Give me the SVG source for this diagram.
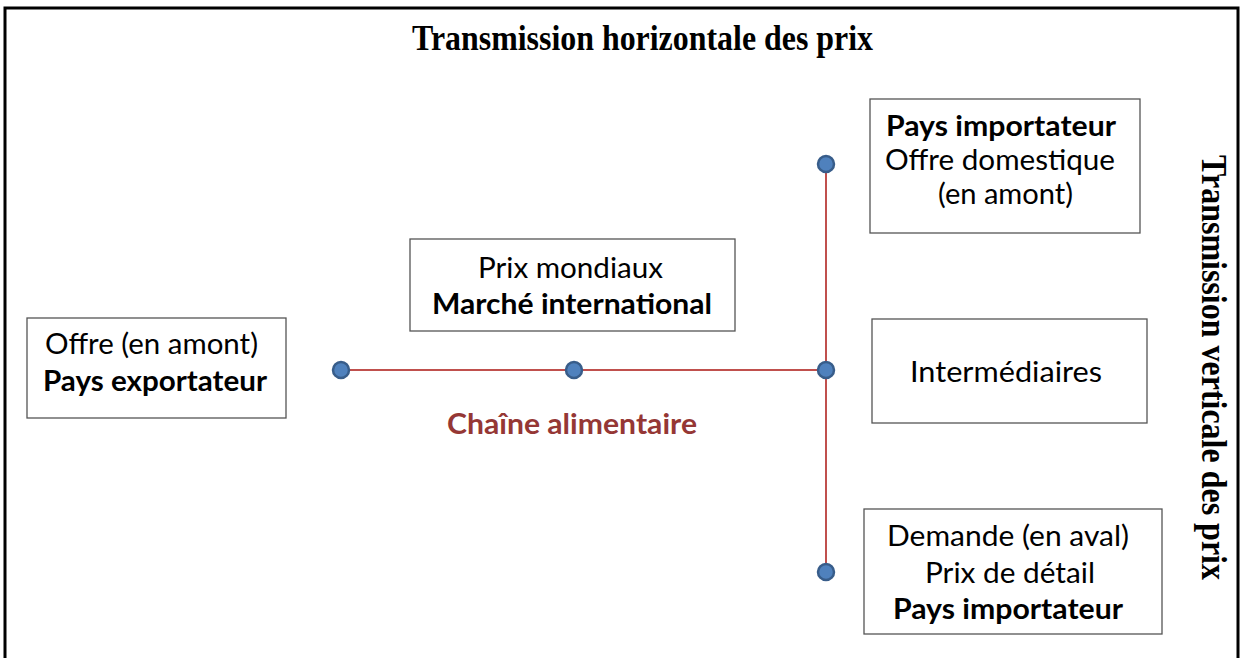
<svg xmlns="http://www.w3.org/2000/svg" width="1244" height="658" viewBox="0 0 1244 658">
<style>
.frame{fill:none;stroke:#000;stroke-width:3}
.box{fill:#fff;stroke:#555;stroke-width:1.3}
.t{font-family:Lato,"Open Sans","Liberation Sans",sans-serif;font-size:28px;fill:#000;text-anchor:middle}
.b{font-weight:bold}
.title{font-family:"Liberation Serif","Times New Roman",serif;font-weight:bold;font-size:36px;fill:#000;text-anchor:middle}
.link{stroke:#c0504d;stroke-width:2;fill:none}
.dot{fill:#4f81bd;stroke:#385d8a;stroke-width:2.5}
.chain{font-family:Lato,"Open Sans","Liberation Sans",sans-serif;font-size:28px;font-weight:bold;fill:#953735;text-anchor:middle}
</style>
<rect width="1244" height="658" fill="#fff"/>
<path class="frame" d="M5,662 V8 H1238 V662"/>
<text class="title" x="642.5" y="50" textLength="461" lengthAdjust="spacingAndGlyphs">Transmission horizontale des prix</text>
<text class="title" transform="translate(1202,367.5) rotate(90)" x="0" y="0" textLength="425" lengthAdjust="spacingAndGlyphs">Transmission verticale des prix</text>

<g id="connectors">
<line class="link" x1="341" y1="370" x2="826" y2="370"/>
<line class="link" x1="826" y1="164" x2="826" y2="572"/>
</g>

<g id="dot1"><circle class="dot" cx="341" cy="370" r="8"/></g>
<g id="dot2"><circle class="dot" cx="574" cy="370" r="8"/></g>
<g id="dot3"><circle class="dot" cx="826" cy="370" r="8"/></g>
<g id="dot4"><circle class="dot" cx="826" cy="164" r="8"/></g>
<g id="dot5"><circle class="dot" cx="826" cy="572" r="8"/></g>

<g id="exportateur">
<rect class="box" x="27" y="318" width="259" height="100"/>
<text class="t" x="151.5" y="354" textLength="213" lengthAdjust="spacingAndGlyphs">Offre (en amont)</text>
<text class="t b" x="155" y="391" textLength="224" lengthAdjust="spacingAndGlyphs">Pays exportateur</text>
</g>

<g id="marche">
<rect class="box" x="410" y="239" width="325" height="92"/>
<text class="t" x="570.5" y="278" textLength="185" lengthAdjust="spacingAndGlyphs">Prix mondiaux</text>
<text class="t b" x="572" y="314" textLength="280" lengthAdjust="spacingAndGlyphs">Marché international</text>
</g>

<g id="importateur-offre">
<rect class="box" x="870" y="99" width="270" height="134"/>
<text class="t b" x="1001" y="136" textLength="230" lengthAdjust="spacingAndGlyphs">Pays importateur</text>
<text class="t" x="1000" y="170" textLength="230" lengthAdjust="spacingAndGlyphs">Offre domestique</text>
<text class="t" x="1005.5" y="204" textLength="135" lengthAdjust="spacingAndGlyphs">(en amont)</text>
</g>

<g id="intermediaires">
<rect class="box" x="872" y="319" width="275" height="104"/>
<text class="t" x="1006" y="382" textLength="192" lengthAdjust="spacingAndGlyphs">Intermédiaires</text>
</g>

<g id="demande">
<rect class="box" x="864" y="509" width="298" height="125"/>
<text class="t" x="1008" y="546" textLength="242" lengthAdjust="spacingAndGlyphs">Demande (en aval)</text>
<text class="t" x="1010" y="583" textLength="170" lengthAdjust="spacingAndGlyphs">Prix de détail</text>
<text class="t b" x="1008" y="619" textLength="230" lengthAdjust="spacingAndGlyphs">Pays importateur</text>
</g>

<g id="chaine">
<text class="chain" x="572" y="434" textLength="250" lengthAdjust="spacingAndGlyphs">Chaîne alimentaire</text>
</g>
</svg>
